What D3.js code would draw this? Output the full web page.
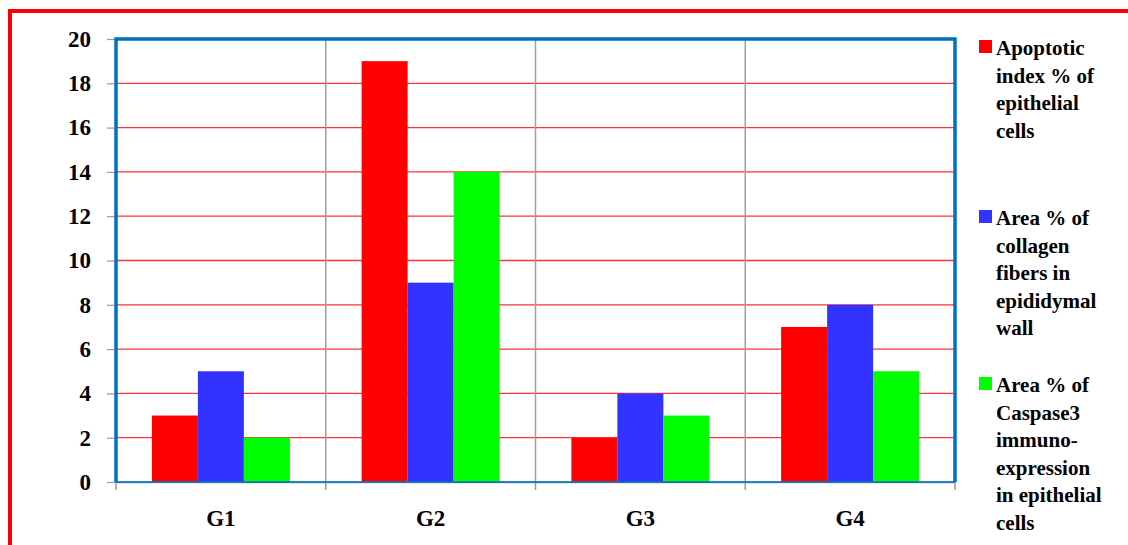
<!DOCTYPE html>
<html><head><meta charset="utf-8">
<script src="https://cdn.jsdelivr.net/npm/d3@7"></script>
<style>svg text{font-family:"Liberation Serif","Times New Roman",serif !important;font-weight:bold !important}</style>
</head><body style="margin:0">
<script>
const categories = ["G1","G2","G3","G4"];
const seriesNames = [
  ["Apoptotic","index % of","epithelial","cells"],
  ["Area % of","collagen","fibers in","epididymal","wall"],
  ["Area % of","Caspase3","immuno-","expression","in epithelial","cells"]
];
const apoptotic = [3,19,2,7];
const collagen = [5,9,4,8];
const caspase = [2,14,3,5];
const yTicks = [0,2,4,6,8,10,12,14,16,18,20];
const colors = ["#FF0000","#3333FF","#00FF00"];

const W=1128,H=545;
const FONT="Liberation Serif";
const svg=d3.select("body").append("svg").attr("width",W).attr("height",H)
  .attr("font-family",FONT).style("display","block");

// outer red frame
svg.append("rect").attr("x",10).attr("y",11).attr("width",1130).attr("height",560)
  .attr("fill","none").attr("stroke","#FF0000").attr("stroke-width",4);

const L=116,R=955,T=39,B=482;
const x=d3.scaleBand().domain(categories).range([L,R]).paddingInner(0).paddingOuter(0);
const x1=d3.scaleBand().domain([0,1,2]).range([0,x.bandwidth()]).paddingInner(0).paddingOuter(0.78);
const y=d3.scaleLinear().domain([0,20]).range([B,T]);

// horizontal gridlines
svg.append("g").selectAll("line").data(yTicks.filter(d=>d>0&&d<20)).join("line")
  .attr("x1",L).attr("x2",R).attr("y1",d=>y(d)).attr("y2",d=>y(d))
  .attr("stroke","#FF3333").attr("stroke-width",1.3);
// vertical gridlines
svg.append("g").selectAll("line").data(categories.slice(1)).join("line")
  .attr("x1",d=>x(d)).attr("x2",d=>x(d)).attr("y1",T).attr("y2",B)
  .attr("stroke","#A0A0A0").attr("stroke-width",1.5);

// bars
const series=[apoptotic,collagen,caspase];
const g=svg.append("g");
categories.forEach((c,i)=>{
  series.forEach((s,j)=>{
    g.append("rect").attr("x",x(c)+x1(j)).attr("width",x1.bandwidth())
      .attr("y",y(s[i])).attr("height",y(0)-y(s[i])).attr("fill",colors[j]);
  });
});

function serif(sel,size){
  sel.attr("font-family",FONT).attr("font-weight","bold").attr("font-size",size)
    .style("font-family",FONT,"important").style("font-weight","bold","important")
    .style("font-size",size+"px","important");
}

// axes
const yAxis=svg.append("g").attr("transform",`translate(${L},0)`)
  .call(d3.axisLeft(y).tickValues(yTicks).tickSize(9).tickPadding(16).tickFormat(d3.format("d")));
yAxis.attr("font-family",null).attr("font-size",null);
yAxis.select(".domain").remove();
yAxis.selectAll("line").attr("stroke","#999").attr("stroke-width",1.2);
serif(yAxis.selectAll("text").attr("fill","#000"),23);

const xAxis=svg.append("g").attr("transform",`translate(0,${B})`)
  .call(d3.axisBottom(x).tickSize(0).tickPadding(28));
xAxis.attr("font-family",null).attr("font-size",null);
xAxis.select(".domain").attr("stroke","#999").attr("stroke-width",1.5);
serif(xAxis.selectAll("text").attr("fill","#000"),23);
svg.append("g").selectAll("line").data(categories.map(c=>x(c)).concat([R])).join("line")
  .attr("x1",d=>d).attr("x2",d=>d).attr("y1",B).attr("y2",B+8).attr("stroke","#999").attr("stroke-width",1.5);

// plot border (blue)
svg.append("path").attr("d",`M${L},${B}V${T}H${R}V${B}`).attr("fill","none")
  .attr("stroke","#0070C0").attr("stroke-width",3.5);
svg.append("line").attr("x1",L).attr("x2",R).attr("y1",B).attr("y2",B).attr("stroke","#0070C0").attr("stroke-width",2).attr("opacity",0.8);

// legend
const legTop=[48,218,385];
const lh=27.6;
seriesNames.forEach((lines,j)=>{
  svg.append("rect").attr("x",979).attr("y",legTop[j]-8).attr("width",13).attr("height",13).attr("fill",colors[j]);
  lines.forEach((ln,k)=>{
    serif(svg.append("text").attr("x",996).attr("y",legTop[j]+7+k*lh).attr("fill","#000").text(ln),21);
  });
});
</script>
</body></html>
